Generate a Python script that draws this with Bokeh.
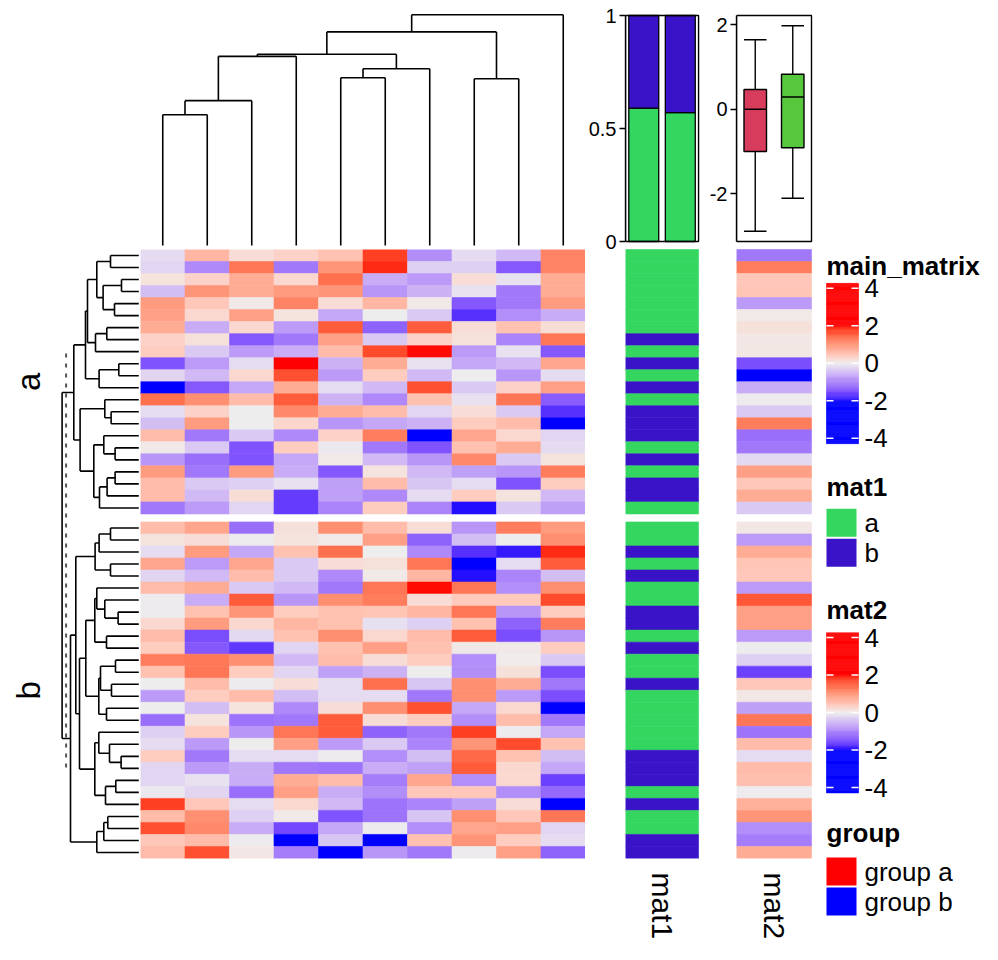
import numpy as np
from bokeh.plotting import figure
from bokeh.models import (Range1d, ColumnDataSource, LinearColorMapper, FixedTicker, Spacer,
                          LinearAxis)
from bokeh.layouts import row, column
from bokeh.transform import transform, factor_cmap
from bokeh.core.properties import value
from bokeh.embed import file_html
from bokeh.resources import INLINE

FONT = "Liberation Sans"

# ---------------- data ----------------
# main matrix, slice "a" (22 rows x 10 columns)
main_a = [
    [-0.16, 0.63, 0.19, 0.32, 0.50, 1.78, -0.90, -0.16, -0.50, 1.20],
    [-0.22, -0.95, 1.32, -1.10, 1.00, 1.88, -0.27, -0.27, -1.40, 1.20],
    [0.13, 0.32, 0.76, 0.25, 1.38, -0.60, -0.77, 0.19, -0.11, 0.76],
    [-0.44, 1.00, 0.76, 0.95, 1.00, -0.82, -0.55, -0.11, -1.10, 0.76],
    [0.95, 0.44, 0.06, 1.20, 0.19, 0.63, 0.06, -1.40, -1.10, 0.95],
    [0.88, 0.25, 0.88, 0.13, -0.66, 0.00, -0.33, -1.75, -0.90, -0.60],
    [0.76, -0.60, 0.25, -0.77, 1.55, -1.30, 1.55, 0.19, 0.50, 0.19],
    [0.32, 0.16, -1.40, -1.10, 0.88, -0.33, 0.32, 0.16, -1.00, 1.32],
    [0.38, -0.33, -0.77, -0.60, 0.57, 1.70, 1.97, -0.77, -0.11, -1.40],
    [-1.45, -0.77, -0.16, 2.10, -0.55, 0.76, -0.11, -0.66, -0.50, 0.82],
    [-0.22, -0.50, 0.25, 1.65, -0.77, 0.38, -0.50, 0.00, -0.82, -0.16],
    [-2.40, -1.40, -0.66, 0.76, -0.16, -0.50, 1.65, -0.33, 0.32, 0.88],
    [1.38, 1.07, 0.57, 1.55, -0.55, -0.95, 0.50, -0.11, 1.32, -1.35],
    [-0.16, 0.32, 0.00, 1.13, 0.76, 0.57, -0.22, 0.19, -0.33, -1.75],
    [-0.44, 0.95, 0.00, 0.28, -0.82, -0.66, -0.55, 0.38, 0.57, -2.30],
    [0.57, -1.10, -0.33, -0.95, 0.32, 1.26, -2.50, 0.82, 0.25, -0.22],
    [0.06, -0.33, -1.45, 0.38, -0.05, -1.10, -1.45, 0.50, 0.76, -0.16],
    [-0.82, -1.20, -1.45, -0.66, 0.06, -0.50, -0.82, 1.13, -0.33, 0.13],
    [0.95, -1.10, 0.95, -0.60, -1.40, 0.13, -0.50, -0.72, -0.82, 1.26],
    [0.57, -0.33, -0.27, -0.11, -0.72, 0.57, -0.38, -0.16, -1.45, 0.38],
    [0.57, -0.50, 0.19, -1.65, -0.72, -0.95, -0.16, 0.38, 0.13, -0.50],
    [-1.10, -0.77, -0.22, -1.65, -1.00, 0.38, -1.00, -1.95, -0.33, -0.72],
]
# main matrix, slice "b" (28 rows x 10 columns)
main_b = [
    [0.57, 0.82, -1.20, 0.16, 1.07, 0.57, 0.19, -0.82, 1.26, 0.95],
    [0.13, 0.19, -0.03, 0.13, 0.06, 0.88, -1.30, -0.44, 0.00, 1.07],
    [-0.16, 0.95, -0.66, 0.50, 1.38, 0.00, -0.95, -1.75, -1.90, 1.88],
    [0.82, -0.77, 0.82, -0.33, 0.19, 0.16, 1.32, -2.40, -0.16, 1.55],
    [-0.22, -0.50, 0.57, -0.33, -0.95, 0.06, 0.63, -1.95, -1.00, -0.44],
    [0.57, 0.76, -0.33, -0.50, -1.10, 1.32, 1.97, 1.32, -0.90, 1.07],
    [-0.03, -0.60, 1.55, -0.82, 1.07, 1.26, 0.19, 0.41, 0.41, 1.70],
    [-0.03, 0.50, 1.00, 0.38, 0.50, 0.47, 0.63, 1.32, -0.82, 0.38],
    [0.25, 0.95, 0.25, 0.63, 0.50, -0.14, -0.27, 0.50, -1.30, 1.26],
    [0.57, -1.50, -0.19, 0.50, 1.07, 0.25, 0.57, 1.55, -1.50, -0.82],
    [0.38, -1.40, -1.70, -0.22, 0.50, 0.88, 0.50, 0.06, 0.06, 0.38],
    [1.26, 1.29, 1.07, -0.50, 0.57, 0.19, 0.38, -0.90, 0.03, -0.33],
    [0.50, 1.32, 0.38, -0.22, -0.72, -0.55, 0.00, -0.90, 0.16, -1.50],
    [0.00, 0.57, -0.03, 0.19, -0.16, 1.38, -0.38, 1.07, 0.76, -1.10],
    [-0.77, 0.38, 0.57, -0.44, -0.16, -0.16, -1.10, 1.07, -0.77, -1.50],
    [0.00, -0.44, 0.13, -0.95, 0.19, 1.07, 1.65, -0.66, 0.25, -2.40],
    [-1.20, 0.13, -1.15, -1.10, 1.55, 0.19, 0.38, -0.90, 0.57, -1.10],
    [-0.27, 0.38, -0.82, 1.32, 1.55, -1.30, -1.10, 1.78, -0.03, -0.66],
    [-0.16, -0.77, 0.00, 0.88, -0.77, -0.33, -1.00, 1.00, 1.70, 0.50],
    [0.38, -1.10, -0.16, -0.16, -0.03, -0.90, -0.44, 1.45, 0.50, -0.44],
    [-0.22, -0.77, -0.60, -1.10, -1.15, -0.60, -0.72, 1.55, 0.25, -0.66],
    [-0.22, -0.11, -0.60, 0.76, 0.57, -1.05, 0.82, -0.90, 0.25, -1.60],
    [-0.05, -0.22, -1.20, 0.88, -0.60, -0.90, 0.44, 0.44, -0.90, -1.25],
    [1.78, 0.44, -0.16, 0.25, -0.50, -1.15, -1.00, -0.72, 0.19, -2.00],
    [0.57, 1.07, -0.27, 0.06, -1.45, -1.15, -0.38, 1.07, 0.44, 1.32],
    [1.65, 1.13, -0.60, -1.55, -0.66, -0.03, -0.90, 0.82, 0.88, -0.22],
    [0.44, 0.57, -0.03, -2.10, -0.38, -2.10, 0.50, 1.00, 0.38, -0.16],
    [0.57, 1.65, 0.09, -1.05, -2.40, -0.82, -1.10, -0.03, 0.88, -1.30],
]

# row annotation "mat1" (categorical)
mat1_a = ["a", "a", "a", "a", "a", "a", "a", "b", "a", "b", "a", "b", "a", "b", "b", "b",
          "a", "b", "a", "b", "b", "a"]
mat1_b = ["a", "a", "b", "a", "b", "a", "a", "b", "b", "a", "b", "a", "a", "b", "a", "a",
          "a", "a", "a", "b", "b", "b", "a", "b", "a", "a", "b", "b"]
mat1_levels = ["a", "b"]
mat1_colors = ["#34D660", "#3A12C8"]

# row annotation "mat2" (numeric)
mat2_a = [-1.10, 1.26, 0.44, 0.47, -0.77, 0.06, 0.16, 0.09, 0.09, -1.50, -2.80, -0.60,
          -0.03, -0.33, 1.26, -1.20, -1.10, -0.19, 0.88, 0.44, 0.76, -0.33]
mat2_b = [0.09, -0.77, 0.76, 0.47, 0.44, -0.77, 1.60, 0.88, 0.88, -0.77, -0.03, -0.27,
          -1.60, 0.44, 0.09, -0.72, 1.32, -1.15, 0.57, -0.16, 0.57, 0.54, -0.03, 0.69,
          1.00, -0.90, -1.05, 0.76]

# top annotation of mat1: stacked proportions of levels a / b
bar_prop_a = [0.59, 0.57]
bar_prop_b = [0.41, 0.43]

# top annotation of mat2: boxplot statistics
box_low = [-2.89, -2.11]
box_q1 = [-1.00, -0.91]
box_med = [0.00, 0.29]
box_q3 = [0.47, 0.83]
box_high = [1.65, 1.98]
box_colors = ["#D83C5C", "#57C83E"]

group_levels = ["group a", "group b"]
group_colors = ["#FF0000", "#0000FF"]
slice_titles = ["a", "b"]

# colour ramp (circlize-style, interpolated in LAB)
ramp_breaks = [-2, 0, 2]
ramp_colors = ["#0000FF", "#EEEEEE", "#FF0000"]
legend_ticks = [4, 2, 0, -2, -4]

# column dendrogram (hclust style merge: negative = leaf, positive = earlier step)
col_merge = [(-1, -2), (1, -3), (2, -4), (-5, -6), (4, -7), (3, 5), (-8, -9), (6, 7), (8, -10)]
col_height = [5.67, 6.28, 8.20, 7.27, 7.66, 8.29, 7.23, 9.26, 10.0]

# row dendrogram, slice a
rowa_merge = [(-1, -2), (-3, -4), (-5, -6), (2, 3), (1, 4), (-7, -8), (6, -9), (5, 7),
              (-10, -11), (9, -12), (8, 10), (-14, -15), (-13, 12), (-17, -18), (-16, 14),
              (-19, -20), (16, -21), (17, -22), (15, 18), (13, 19), (11, 20)]
rowa_height = [28.3, 17.3, 24.3, 35.7, 42.0, 32.0, 43.3, 51.3, 20.0, 39.7, 53.3, 27.7,
               34.0, 23.7, 35.0, 23.7, 31.7, 39.3, 45.0, 58.7, 65.0]
# row dendrogram, slice b
rowb_merge = [(-1, -2), (1, -3), (-4, -5), (2, 3), (-8, -9), (-7, 5), (-6, 6), (-10, -11),
              (7, 8), (-12, -13), (-14, -15), (10, 11), (-16, -17), (12, 13), (9, 14),
              (-20, -21), (-19, 16), (-18, 17), (-22, -23), (19, -24), (18, 20), (15, 21),
              (4, 22), (-25, -26), (24, -27), (25, -28), (23, 26)]
rowb_height = [28.3, 39.7, 28.3, 43.7, 20.7, 34.0, 42.0, 32.3, 44.0, 23.3, 27.3, 38.3,
               32.3, 40.0, 53.0, 17.7, 29.3, 40.0, 23.0, 33.3, 44.0, 59.3, 63.0, 31.0,
               35.0, 42.0, 68.3]
row_root_height = 76.7
row_cut_height = 72.7
row_cut_span = [8.65, 43.6]


# ---------------- colour helpers ----------------
def _s2l(c):
    c = c / 255.0
    return ((c + 0.055) / 1.055) ** 2.4 if c > 0.04045 else c / 12.92


def _l2s(c):
    c = min(max(c, 0.0), 1.0)
    v = 1.055 * c ** (1 / 2.4) - 0.055 if c > 0.0031308 else 12.92 * c
    return int(round(v * 255))


def hex_to_lab(h):
    r, g, b = [_s2l(int(h[i:i + 2], 16)) for i in (1, 3, 5)]
    X = (0.4124 * r + 0.3576 * g + 0.1805 * b) / 0.95047
    Y = 0.2126 * r + 0.7152 * g + 0.0722 * b
    Z = (0.0193 * r + 0.1192 * g + 0.9505 * b) / 1.08883
    f = lambda t: t ** (1 / 3) if t > 0.008856 else 7.787 * t + 16 / 116
    fx, fy, fz = f(X), f(Y), f(Z)
    return 116 * fy - 16, 500 * (fx - fy), 200 * (fy - fz)


def lab_to_hex(L, a, b):
    fy = (L + 16) / 116
    fx = fy + a / 500
    fz = fy - b / 200
    finv = lambda t: t ** 3 if t ** 3 > 0.008856 else (t - 16 / 116) / 7.787
    X, Y, Z = 0.95047 * finv(fx), finv(fy), 1.08883 * finv(fz)
    r = 3.2406 * X - 1.5372 * Y - 0.4986 * Z
    g = -0.9689 * X + 1.8758 * Y + 0.0415 * Z
    bb = 0.0557 * X - 0.2040 * Y + 1.0570 * Z
    return "#%02x%02x%02x" % (_l2s(r), _l2s(g), _l2s(bb))


def ramp_palette(breaks, colors, n=256):
    labs = [hex_to_lab(c) for c in colors]
    out = []
    for v in np.linspace(breaks[0], breaks[-1], n):
        k = min(np.searchsorted(breaks, v, side="right") - 1, len(breaks) - 2)
        k = max(k, 0)
        t = (v - breaks[k]) / (breaks[k + 1] - breaks[k])
        L = [labs[k][i] + t * (labs[k + 1][i] - labs[k][i]) for i in range(3)]
        out.append(lab_to_hex(*L))
    return out


mapper = LinearColorMapper(palette=ramp_palette(ramp_breaks, ramp_colors),
                           low=ramp_breaks[0], high=ramp_breaks[-1])

# ---------------- layout constants (pixels) ----------------
ROW_GAP = 0.665
n_a, n_b = len(main_a), len(main_b)
n_col = len(main_a[0])
row_pos = [i + 0.5 for i in range(n_a)] + [n_a + ROW_GAP + j + 0.5 for j in range(n_b)]
Y_TOTAL = n_a + n_b + ROW_GAP

PAGE_H = 952
HEAT_TOP, HEAT_BOT = 249, 858       # heatmap body, top / bottom
ANNO_TOP, ANNO_BOT = 15, 241        # top annotations (barplot / boxplot)
FRAME_TOP = 13                      # frame top of the annotation columns
BOTTOM_B = PAGE_H - HEAT_BOT
ROW_PX = (HEAT_BOT - HEAT_TOP) / Y_TOTAL
ANNO_PX = ANNO_BOT - ANNO_TOP

DEND_W = 140
HEAT_W = 445
CELL_W = 75                         # annotation column width
FRAME_W = 77                        # frame width of annotation column figure
M1_B, M2_B = 38, 36                 # left borders (space for the small axes)
LEG_X0 = DEND_W + HEAT_W + M1_B + FRAME_W + M2_B + FRAME_W
LEG_W = 990 - LEG_X0
LINE_W = 1.6


def base_fig(w, h, xr, yr, **kw):
    opts = dict(width=w, height=h, x_range=xr, y_range=yr, output_backend="svg",
                toolbar_location=None, min_border=0, x_axis_location=None,
                y_axis_location=None)
    opts.update(kw)
    p = figure(**opts)
    p.grid.visible = False
    p.outline_line_color = None
    p.background_fill_color = "white"
    p.border_fill_color = "white"
    return p


def dendro(merge, heights, leaf_pos):
    pos, hts = {}, {}
    segs = []

    def get(node):
        if node < 0:
            return leaf_pos[-node - 1], 0.0
        return pos[node], hts[node]

    for k, ((a, b), h) in enumerate(zip(merge, heights), start=1):
        pa, ha = get(a)
        pb, hb = get(b)
        segs += [(pa, ha, pa, h), (pb, hb, pb, h), (pa, h, pb, h)]
        pos[k], hts[k] = (pa + pb) / 2, h
    return segs, pos[len(merge)], heights[-1]


def style_axis(ax, size="20px"):
    ax.axis_line_color = "black"
    ax.axis_line_width = 1.4
    ax.major_tick_line_color = "black"
    ax.major_tick_line_width = 1.4
    ax.major_tick_out = 6
    ax.major_tick_in = 0
    ax.minor_tick_line_color = None
    ax.major_label_text_font = FONT
    ax.major_label_text_font_size = size
    ax.major_label_text_color = "black"
    ax.major_label_standoff = 3


def style_name_axis(ax, name):
    ax.ticker = FixedTicker(ticks=[0.5])
    ax.major_label_overrides = {0.5: name}
    ax.axis_line_color = None
    ax.major_tick_line_color = None
    ax.minor_tick_line_color = None
    ax.major_label_orientation = "vertical"
    ax.major_label_text_font = FONT
    ax.major_label_text_font_size = "30px"
    ax.major_label_text_color = "black"
    ax.major_label_standoff = 8


# ---------------- column dendrogram ----------------
p_cd = base_fig(HEAT_W, HEAT_TOP, Range1d(0, n_col), Range1d(-0.173, 10.62))
segs, _, _ = dendro(col_merge, col_height, [i + 0.5 for i in range(n_col)])
p_cd.segment(x0=[s[0] for s in segs], y0=[s[1] for s in segs],
             x1=[s[2] for s in segs], y1=[s[3] for s in segs],
             line_color="black", line_width=LINE_W)

# ---------------- row dendrogram + slice titles ----------------
MID_H = PAGE_H - HEAT_TOP
p_rd = base_fig(DEND_W, MID_H, Range1d(138.3, -1.7), Range1d(Y_TOTAL, 0),
                min_border_bottom=BOTTOM_B)
segs_a, pa, ha = dendro(rowa_merge, rowa_height, row_pos[:n_a])
segs_b, pb, hb = dendro(rowb_merge, rowb_height, row_pos[n_a:])
segs_r = segs_a + segs_b + [(pa, ha, pa, row_root_height), (pb, hb, pb, row_root_height),
                            (pa, row_root_height, pb, row_root_height)]
p_rd.segment(x0=[s[1] for s in segs_r], y0=[s[0] for s in segs_r],
             x1=[s[3] for s in segs_r], y1=[s[2] for s in segs_r],
             line_color="black", line_width=LINE_W)
p_rd.segment(x0=[row_cut_height], y0=[row_cut_span[0]], x1=[row_cut_height],
             y1=[row_cut_span[1]], line_color="#555555", line_width=2, line_dash="4 6")
p_rd.text(x=[110, 110], y=[n_a / 2, n_a + ROW_GAP + n_b / 2], text=slice_titles,
          angle=np.pi / 2, text_align="center", text_baseline="middle",
          text_font=value(FONT), text_font_size=value("33px"), text_color="black")

# ---------------- main heatmap ----------------
p_hm = base_fig(HEAT_W, MID_H, Range1d(0, n_col), Range1d(Y_TOTAL, 0),
                min_border_bottom=BOTTOM_B)
hx, hy, hv = [], [], []
for r, vals in enumerate(main_a + main_b):
    for c, v in enumerate(vals):
        hx.append(c + 0.5)
        hy.append(row_pos[r])
        hv.append(v)
src = ColumnDataSource(dict(x=hx, y=hy, v=hv))
p_hm.rect(x="x", y="y", width=1, height=1, source=src,
          fill_color=transform("v", mapper), line_color=transform("v", mapper), line_width=0.6)


# ---------------- annotation columns (top annotation + row annotation) ----------------
def anno_fig(left_border):
    # rows: Y_TOTAL at the frame bottom (= heatmap bottom), heatmap top at HEAT_TOP
    yr = Range1d(Y_TOTAL, -(HEAT_TOP - FRAME_TOP) / ROW_PX)
    p = base_fig(left_border + FRAME_W, PAGE_H, Range1d(0, FRAME_W / CELL_W), yr,
                 x_axis_location="below", min_border_left=left_border,
                 min_border_top=FRAME_TOP, min_border_bottom=BOTTOM_B)
    p.extra_x_ranges = {"slot": Range1d(0, 2 * FRAME_W / CELL_W)}
    return p


def top_range(lo, hi):
    unit = (hi - lo) / ANNO_PX
    return Range1d(lo - (HEAT_BOT - ANNO_BOT) * unit, hi + (ANNO_TOP - FRAME_TOP) * unit)


# mat1: stacked barplot on top, categorical column below
p_m1 = anno_fig(M1_B)
p_m1.extra_y_ranges = {"bar": top_range(0, 1)}
src1 = ColumnDataSource(dict(x=[0.5] * len(row_pos), y=row_pos, lvl=mat1_a + mat1_b))
p_m1.rect(x="x", y="y", width=1, height=1, source=src1,
          fill_color=factor_cmap("lvl", mat1_colors, mat1_levels),
          line_color=factor_cmap("lvl", mat1_colors, mat1_levels), line_width=0.6)
bx = [i + 0.5 for i in range(len(bar_prop_a))]
p_m1.vbar(x=bx, width=0.82, bottom=0, top=bar_prop_a, fill_color=mat1_colors[0],
          line_color="black", line_width=1.3, x_range_name="slot", y_range_name="bar")
p_m1.vbar(x=bx, width=0.82, bottom=bar_prop_a,
          top=[a + b for a, b in zip(bar_prop_a, bar_prop_b)],
          fill_color=mat1_colors[1], line_color="black", line_width=1.3,
          x_range_name="slot", y_range_name="bar")
p_m1.quad(left=[0], right=[len(bx)], bottom=[0], top=[1], fill_color=None,
          line_color="black", line_width=1.4, x_range_name="slot", y_range_name="bar")
ax1 = LinearAxis(y_range_name="bar", bounds=(0, 1), ticker=FixedTicker(ticks=[0, 0.5, 1]),
                 major_label_overrides={0: "0", 0.5: "0.5", 1: "1"})
style_axis(ax1)
p_m1.add_layout(ax1, "left")
style_name_axis(p_m1.xaxis[0], "mat1")

# mat2: boxplot on top, numeric column below
b_lo, b_hi = min(box_low), max(box_high)
pad = 0.05 * (b_hi - b_lo)
lo, hi = b_lo - pad, b_hi + pad
p_m2 = anno_fig(M2_B)
p_m2.extra_y_ranges = {"box": top_range(lo, hi)}
src2 = ColumnDataSource(dict(x=[0.5] * len(row_pos), y=row_pos, v=mat2_a + mat2_b))
p_m2.rect(x="x", y="y", width=1, height=1, source=src2,
          fill_color=transform("v", mapper), line_color=transform("v", mapper), line_width=0.6)
BOX_W = 0.6
xb = [i + 0.5 for i in range(len(box_med))]
kw = dict(line_color="black", line_width=1.4, x_range_name="slot", y_range_name="box")
p_m2.segment(x0=xb, y0=box_q3, x1=xb, y1=box_high, **kw)
p_m2.segment(x0=xb, y0=box_low, x1=xb, y1=box_q1, **kw)
p_m2.segment(x0=[x - BOX_W / 2 for x in xb], y0=box_high, x1=[x + BOX_W / 2 for x in xb],
             y1=box_high, **kw)
p_m2.segment(x0=[x - BOX_W / 2 for x in xb], y0=box_low, x1=[x + BOX_W / 2 for x in xb],
             y1=box_low, **kw)
p_m2.vbar(x=xb, width=BOX_W, bottom=box_q1, top=box_q3, fill_color=box_colors, **kw)
p_m2.segment(x0=[x - BOX_W / 2 for x in xb], y0=box_med, x1=[x + BOX_W / 2 for x in xb],
             y1=box_med, **kw)
p_m2.quad(left=[0], right=[len(xb)], bottom=[lo], top=[hi], fill_color=None, **kw)
ax2 = LinearAxis(y_range_name="box", bounds=(lo, hi), ticker=FixedTicker(ticks=[-2, 0, 2]),
                 major_label_overrides={-2: "-2", 0: "0", 2: "2"})
style_axis(ax2)
p_m2.add_layout(ax2, "left")
style_name_axis(p_m2.xaxis[0], "mat2")

# ---------------- legends ----------------
p_lg = base_fig(LEG_W, PAGE_H, Range1d(0, LEG_W), Range1d(PAGE_H, 0))
LX = 826 - LEG_X0
TX = 864 - LEG_X0
LFS = "26px"


def leg_title(txt, mid_y):
    p_lg.text(x=[LX], y=[mid_y], text=[txt], text_align="left",
              text_baseline="middle", text_font=value(FONT), text_font_size=value(LFS),
              text_font_style="bold", text_color="black")


def leg_colorbar(cy, px_per_unit=18.75, half=80, w=32):
    step = 0.05
    vs = np.arange(-half / px_per_unit, half / px_per_unit + 1e-9, step)
    s = ColumnDataSource(dict(v=vs, top=cy - px_per_unit * (vs + step / 2),
                              bottom=cy - px_per_unit * (vs - step / 2)))
    p_lg.quad(left=LX, right=LX + w, top="top", bottom="bottom", source=s,
              fill_color=transform("v", mapper), line_color=transform("v", mapper),
              line_width=0.5)
    ty = [cy - px_per_unit * t for t in legend_ticks]
    p_lg.segment(x0=[LX] * 5, y0=ty, x1=[LX + 7] * 5, y1=ty, line_color="white", line_width=1.5)
    p_lg.segment(x0=[LX + w - 7] * 5, y0=ty, x1=[LX + w] * 5, y1=ty, line_color="white",
                 line_width=1.5)
    p_lg.text(x=[TX] * 5, y=ty, text=[str(t) for t in legend_ticks], text_align="left",
              text_baseline="middle", text_font=value(FONT), text_font_size=value(LFS),
              text_color="black")


def leg_boxes(levels, colors, top_y, h=28, gap=2, w=30):
    tops = [top_y + i * (h + gap) for i in range(len(levels))]
    p_lg.quad(left=LX, right=LX + w, top=tops, bottom=[t + h for t in tops], fill_color=colors,
              line_color=None)
    p_lg.text(x=[TX] * len(levels), y=[t + h / 2 for t in tops], text=levels,
              text_align="left", text_baseline="middle", text_font=value(FONT),
              text_font_size=value(LFS), text_color="black")


leg_title("main_matrix", 265)
leg_colorbar(362.7)
leg_title("mat1", 486)
leg_boxes(mat1_levels, mat1_colors, 508.3)
leg_title("mat2", 609)
leg_colorbar(712)
leg_title("group", 832)
leg_boxes(group_levels, group_colors, 857)

# ---------------- assemble ----------------
left = column(row(Spacer(width=DEND_W, height=HEAT_TOP), p_cd), row(p_rd, p_hm))
layout = row(left, row(p_m1, p_m2), p_lg)

open("out.html", "w").write(file_html(layout, INLINE))
